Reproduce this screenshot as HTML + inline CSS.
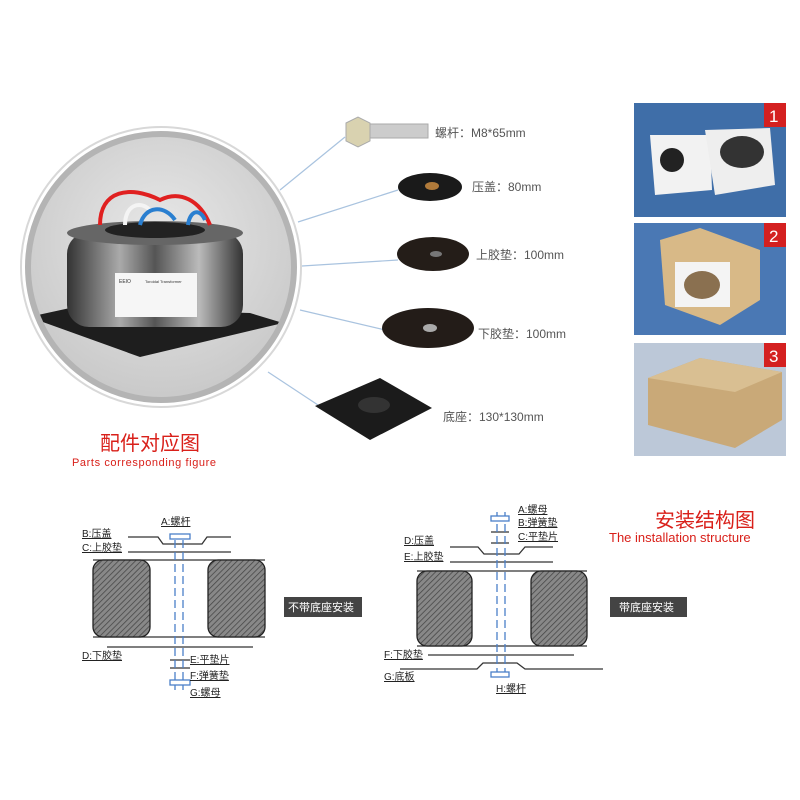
<!DOCTYPE html>
<html><head><meta charset="utf-8"><style>
html,body{margin:0;padding:0;background:#fff}
svg{display:block}
text{font-family:"Liberation Sans","Noto Sans CJK SC",sans-serif}
</style></head><body>
<svg width="800" height="800" viewBox="0 0 800 800" xmlns="http://www.w3.org/2000/svg">
<defs>
<pattern id="h" width="4" height="4" patternUnits="userSpaceOnUse" patternTransform="rotate(45)">
<rect width="4" height="4" fill="#888"/><line x1="0" y1="0" x2="0" y2="4" stroke="#444" stroke-width="1.5"/>
</pattern>
<radialGradient id="bg" cx="50%" cy="40%" r="60%"><stop offset="0" stop-color="#e8e8e8"/><stop offset="1" stop-color="#c9c9c9"/></radialGradient>
<linearGradient id="coil" x1="0" x2="1"><stop offset="0" stop-color="#333"/><stop offset=".3" stop-color="#aaa"/><stop offset=".5" stop-color="#555"/><stop offset=".75" stop-color="#bbb"/><stop offset="1" stop-color="#333"/></linearGradient>
<clipPath id="cc"><circle cx="161" cy="267" r="130"/></clipPath>
</defs>
<rect width="800" height="800" fill="#fff"/>
<g stroke="#a9c3df" stroke-width="1.2">
<line x1="280" y1="190" x2="345" y2="137"/>
<line x1="298" y1="222" x2="398" y2="190"/>
<line x1="302" y1="266" x2="398" y2="260"/>
<line x1="300" y1="310" x2="385" y2="330"/>
<line x1="268" y1="372" x2="318" y2="405"/>
</g>
<circle cx="161" cy="267" r="140" fill="#fff" stroke="#d8d8d8" stroke-width="2"/>
<circle cx="161" cy="267" r="133" fill="url(#bg)" stroke="#b4b4b4" stroke-width="6"/>
<g clip-path="url(#cc)">
<polygon points="29,317 70,308 250,313 283,323 140,357" fill="#1e1e1e"/>
<rect x="67" y="232" width="176" height="95" rx="22" fill="url(#coil)"/>
<ellipse cx="155" cy="233" rx="88" ry="12" fill="#666"/>
<ellipse cx="155" cy="230" rx="50" ry="8" fill="#222"/>
<path d="M100,225 C100,190 130,185 160,200 C180,190 200,200 210,225" stroke="#e02020" stroke-width="4" fill="none"/>
<path d="M125,225 C125,205 140,200 150,210" stroke="#f4f4f4" stroke-width="4" fill="none"/>
<path d="M140,225 C145,205 165,205 175,220 M188,225 C190,210 200,208 205,220" stroke="#2a7fd0" stroke-width="4" fill="none"/>
<rect x="115" y="273" width="82" height="44" fill="#f6f6f6"/>
<text x="119" y="283" font-size="5" fill="#333">EEIO</text>
<text x="145" y="283" font-size="4" fill="#333">Toroidal Transformer</text>
</g>
<polygon points="346,123 358,117 370,123 370,141 358,147 346,141" fill="#d9d2b0" stroke="#aaa"/>
<rect x="370" y="124" width="58" height="14" fill="#ccc" stroke="#aaa"/>
<text x="435" y="137" font-size="12" fill="#555">螺杆：M8*65mm</text>
<ellipse cx="430" cy="187" rx="32" ry="14" fill="#1a1a1a"/><ellipse cx="432" cy="186" rx="7" ry="4" fill="#b07a3a"/>
<text x="472" y="191" font-size="12" fill="#555">压盖：80mm</text>
<ellipse cx="433" cy="254" rx="36" ry="17" fill="#241d18"/><ellipse cx="436" cy="254" rx="6" ry="3" fill="#777"/>
<text x="476" y="259" font-size="12" fill="#555">上胶垫：100mm</text>
<ellipse cx="428" cy="328" rx="46" ry="20" fill="#231c18"/><ellipse cx="430" cy="328" rx="7" ry="4" fill="#aaa"/>
<text x="478" y="338" font-size="12" fill="#555">下胶垫：100mm</text>
<polygon points="315,406 380,378 432,408 370,440" fill="#1b1b1b"/>
<ellipse cx="374" cy="405" rx="16" ry="8" fill="#333"/>
<text x="443" y="421" font-size="12" fill="#555">底座：130*130mm</text>
<text x="100" y="450" font-size="20" fill="#d9201a">配件对应图</text>
<text x="72" y="466" font-size="11" fill="#d9201a" letter-spacing="0.6">Parts corresponding figure</text>
<rect x="634" y="103" width="152" height="114" fill="#3f6ea8"/>
<path d="M650,135 L710,135 L712,190 L655,195 Z" fill="#f2f2f2"/><path d="M705,130 L770,128 L775,185 L715,195 Z" fill="#eee"/>
<ellipse cx="742" cy="152" rx="22" ry="16" fill="#333"/><ellipse cx="672" cy="160" rx="12" ry="12" fill="#222"/>
<rect x="764" y="103" width="22" height="24" fill="#d42020"/><text x="769" y="122" font-size="17" fill="#fff">1</text>
<rect x="634" y="223" width="152" height="112" fill="#4a78b4"/>
<path d="M660,240 L700,228 L760,250 L760,300 L720,325 L665,305 Z" fill="#d8b987"/>
<rect x="675" y="262" width="55" height="45" fill="#f4f4f4"/><ellipse cx="702" cy="285" rx="18" ry="14" fill="#8a7050"/>
<rect x="764" y="223" width="22" height="24" fill="#d42020"/><text x="769" y="242" font-size="17" fill="#fff">2</text>
<rect x="634" y="343" width="152" height="113" fill="#bcc8d8"/>
<polygon points="648,378 700,358 782,372 782,420 735,448 648,425" fill="#c9a978"/>
<polygon points="648,378 700,358 782,372 735,392" fill="#d9bf92"/>
<rect x="764" y="343" width="22" height="24" fill="#d42020"/><text x="769" y="362" font-size="17" fill="#fff">3</text>
<g stroke="#333" stroke-width="1.3" fill="none">
<path d="M128,537 L158,537 L163,544 L202,544 L207,537 L231,537"/>
<line x1="128" y1="552" x2="231" y2="552"/>
<line x1="93" y1="560" x2="265" y2="560"/>
<line x1="93" y1="637" x2="265" y2="637"/>
<line x1="107" y1="647" x2="253" y2="647"/>
<line x1="170" y1="660" x2="190" y2="660"/>
<line x1="170" y1="668" x2="190" y2="668"/>
</g>
<rect x="93" y="560" width="57" height="77" rx="10" fill="url(#h)" stroke="#222" stroke-width="1.3"/>
<rect x="208" y="560" width="57" height="77" rx="10" fill="url(#h)" stroke="#222" stroke-width="1.3"/>
<g stroke="#4a7fc8" stroke-width="1.3" fill="none">
<line x1="175" y1="540" x2="175" y2="690" stroke-dasharray="8,4"/>
<line x1="183" y1="540" x2="183" y2="690" stroke-dasharray="8,4"/>
<rect x="170" y="534" width="20" height="5" fill="#fff"/>
<rect x="170" y="680" width="20" height="5" fill="#fff"/>
</g>
<g font-size="10" fill="#222" text-decoration="underline">
<text x="161" y="525">A:螺杆</text>
<text x="82" y="537">B:压盖</text>
<text x="82" y="551">C:上胶垫</text>
<text x="82" y="659">D:下胶垫</text>
<text x="190" y="663">E:平垫片</text>
<text x="190" y="679">F:弹簧垫</text>
<text x="190" y="696">G:螺母</text>
</g>
<rect x="284" y="597" width="78" height="20" fill="#444"/>
<text x="288" y="611" font-size="11" fill="#fff">不带底座安装</text>
<g stroke="#333" stroke-width="1.3" fill="none">
<path d="M450,547 L478,547 L484,554 L519,554 L525,547 L553,547"/>
<line x1="450" y1="562" x2="553" y2="562"/>
<line x1="417" y1="571" x2="587" y2="571"/>
<line x1="417" y1="646" x2="587" y2="646"/>
<line x1="428" y1="655" x2="574" y2="655"/>
<path d="M400,669 L477,669 L483,663 L517,663 L525,669 L603,669"/>
<line x1="491" y1="532" x2="509" y2="532"/>
<line x1="491" y1="543" x2="509" y2="543"/>
</g>
<rect x="417" y="571" width="55" height="75" rx="10" fill="url(#h)" stroke="#222" stroke-width="1.3"/>
<rect x="531" y="571" width="56" height="75" rx="10" fill="url(#h)" stroke="#222" stroke-width="1.3"/>
<g stroke="#4a7fc8" stroke-width="1.3" fill="none">
<line x1="497" y1="512" x2="497" y2="672" stroke-dasharray="8,4"/>
<line x1="505" y1="512" x2="505" y2="672" stroke-dasharray="8,4"/>
<rect x="491" y="516" width="18" height="5" fill="#fff"/>
<rect x="491" y="672" width="18" height="5" fill="#fff"/>
</g>
<g font-size="10" fill="#222" text-decoration="underline">
<text x="518" y="513">A:螺母</text>
<text x="518" y="526">B:弹簧垫</text>
<text x="518" y="540">C:平垫片</text>
<text x="404" y="544">D:压盖</text>
<text x="404" y="560">E:上胶垫</text>
<text x="384" y="658">F:下胶垫</text>
<text x="384" y="680">G:底板</text>
<text x="496" y="692">H:螺杆</text>
</g>
<rect x="610" y="597" width="77" height="20" fill="#444"/>
<text x="619" y="611" font-size="11" fill="#fff">带底座安装</text>
<text x="655" y="527" font-size="20" fill="#d9201a">安装结构图</text>
<text x="609" y="542" font-size="13" fill="#d9201a">The installation structure</text>
</svg>
</body></html>
